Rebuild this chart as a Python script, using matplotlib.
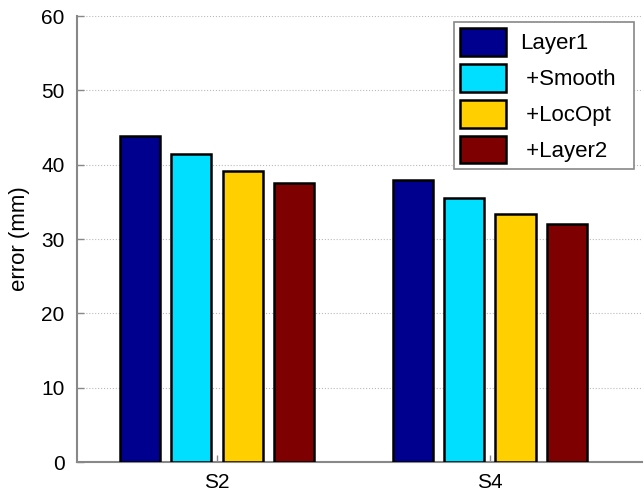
import matplotlib
matplotlib.use("Agg")
import matplotlib.pyplot as plt
import numpy as np

groups = ["S2", "S4"]
series = ["Layer1", " +Smooth  ", " +LocOpt", " +Layer2"]
layer1 = [43.8, 38.0]
smooth = [41.4, 35.5]
locopt = [39.2, 33.3]
layer2 = [37.6, 32.0]
colors = ["#00008F", "#00DFFF", "#FFCF00", "#7F0000"]

plt.rcParams['font.family'] = ['Liberation Sans', 'DejaVu Sans']

fig = plt.figure(figsize=(6.44, 4.96), dpi=100)
ax = fig.add_axes([0.1196, 0.0685, 0.877, 0.8992])

x = np.arange(1, len(groups) + 1)
offsets = [-0.282, -0.094, 0.094, 0.282]
width = 0.147
for vals, name, col, off in zip([layer1, smooth, locopt, layer2], series, colors, offsets):
    ax.bar(x + off, vals, width, color=col, edgecolor="black", linewidth=1.8,
           label=name, zorder=3)

ax.set_xlim(0.487, 2.557)
ax.set_ylim(0, 60)
ax.set_yticks(np.arange(0, 61, 10))
ax.set_xticks(x)
ax.set_xticklabels(groups)
ax.set_ylabel("error (mm)", fontsize=16, labelpad=8)
ax.tick_params(direction="in", labelsize=15, color="#888888", length=5, width=1)
ax.tick_params(axis="x", pad=8)
ax.tick_params(axis="y", pad=9)
ax.yaxis.grid(True, linestyle=":", color="#BBBBBB", linewidth=0.8, zorder=0)

for s in ["top", "right"]:
    ax.spines[s].set_visible(False)
for s in ["left", "bottom"]:
    ax.spines[s].set_color("#888888")
    ax.spines[s].set_linewidth(1.5)

leg = ax.legend(loc="upper right", bbox_to_anchor=(0.986, 0.9865), fontsize=16,
                fancybox=False, framealpha=1, edgecolor="#888888",
                handlelength=2.07, handleheight=1.55, borderpad=0.27,
                labelspacing=0.36, handletextpad=0.63, borderaxespad=0)
leg.get_frame().set_linewidth(1.2)

fig.savefig("out.png", dpi=100)
